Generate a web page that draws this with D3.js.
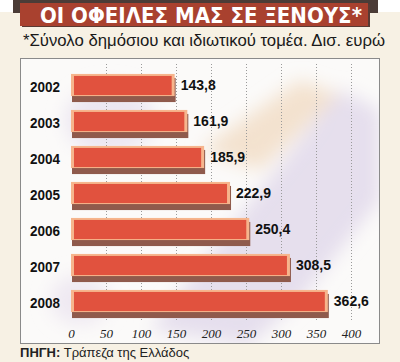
<!DOCTYPE html>
<html>
<head>
<meta charset="utf-8">
<script src="https://cdn.jsdelivr.net/npm/d3@7"></script>
<style>
  body { margin: 0; background: #f7f1e4; }
  svg { display: block; }
</style>
</head>
<body>
<svg width="400" height="362"></svg>
<script>
// Data
var years = ['2002', '2003', '2004', '2005', '2006', '2007', '2008']
var debt = [143.8, 161.9, 185.9, 222.9, 250.4, 308.5, 362.6]
var debtLabels = ['143,8', '161,9', '185,9', '222,9', '250,4', '308,5', '362,6']
var ticks = [0, 50, 100, 150, 200, 250, 300, 350, 400]

var svg = d3.select('svg'),
  width = +svg.attr('width'),
  height = +svg.attr('height')

// Background
svg.append('rect').attr('width', width).attr('height', height).attr('fill', '#f7f1e4')
svg.append('rect').attr('width', width).attr('height', 12).attr('fill', '#ffffff')
svg.append('rect').attr('x', 13).attr('y', 0).attr('width', 365).attr('height', 13).attr('fill', '#4b3c37')

// Title banner
svg.append('rect').attr('x', 22).attr('y', 4).attr('width', 348).attr('height', 23).attr('fill', '#5a3a33')
svg.append('rect').attr('x', 20).attr('y', 3).attr('width', 348).attr('height', 23).attr('fill', '#a9412f')
svg.append('text')
  .attr('x', 40).attr('y', 23)
  .attr('textLength', 322).attr('lengthAdjust', 'spacingAndGlyphs')
  .style('font-family', 'Liberation Sans Narrow, DejaVu Sans Condensed, sans-serif')
  .style('font-weight', 'bold').style('font-size', '22px')
  .attr('fill', '#ffffff')
  .text('ΟΙ ΟΦΕΙΛΕΣ ΜΑΣ ΣΕ ΞΕΝΟΥΣ*')

// Subtitle
svg.append('text')
  .attr('x', 23).attr('y', 46)
  .attr('textLength', 362).attr('lengthAdjust', 'spacingAndGlyphs')
  .style('font-family', 'Liberation Sans, Arial, sans-serif')
  .style('font-size', '16px')
  .attr('fill', '#1a1a1a')
  .text('*Σύνολο δημόσιου και ιδιωτικού τομέα. Δισ. ευρώ')

// Panel
var defs = svg.append('defs')
defs.append('clipPath').attr('id', 'panelClip')
  .append('rect').attr('x', 20).attr('y', 58).attr('width', 359).attr('height', 285)
defs.append('filter').attr('id', 'blur')
  .append('feGaussianBlur').attr('stdDeviation', 9)

svg.append('rect')
  .attr('x', 20.5).attr('y', 58.5).attr('width', 359).attr('height', 285)
  .attr('fill', '#fbfaf9').attr('stroke', '#8a8a8a')

// soft background picture
var deco = svg.append('g').attr('clip-path', 'url(#panelClip)').attr('filter', 'url(#blur)')
deco.append('path').attr('d', 'M150,330 L260,190 L340,90 L380,110 L380,200 L300,300 L250,345 Z')
  .attr('fill', '#e3dcec').attr('opacity', 0.9)
deco.append('path').attr('d', 'M200,150 L300,80 L340,95 L260,170 Z')
  .attr('fill', '#f1dcc4').attr('opacity', 0.8)
deco.append('ellipse').attr('cx', 110).attr('cy', 120).attr('rx', 45).attr('ry', 35)
  .attr('fill', '#ece6f1')
deco.append('ellipse').attr('cx', 80).attr('cy', 300).attr('rx', 30).attr('ry', 25)
  .attr('fill', '#efe9f2')

// Scales
var x = d3.scaleLinear().domain([0, 400]).range([71, 351])
var y = d3.scaleBand().domain(years).range([68, 320]).paddingInner(0.33).paddingOuter(0.165)

// Grid
svg.append('g')
  .selectAll('line')
  .data(ticks.slice(1))
  .enter()
  .append('line')
  .attr('x1', function(d) { return x(d) + 0.5 })
  .attr('x2', function(d) { return x(d) + 0.5 })
  .attr('y1', 64).attr('y2', 320)
  .attr('stroke', '#9a9a9a').attr('stroke-dasharray', '1,2')

// X axis labels
var xAxis = svg.append('g')
  .attr('transform', 'translate(0,329)')
  .call(d3.axisBottom(x).tickValues(ticks).tickSize(0).tickPadding(0))
xAxis.select('.domain').remove()
xAxis.selectAll('text')
  .style('font-family', 'Liberation Serif, Times New Roman, serif')
  .style('font-style', 'italic').style('font-size', '13px')
  .attr('fill', '#222')

// Year labels
svg.append('g')
  .selectAll('text')
  .data(years)
  .enter()
  .append('text')
  .attr('x', 30)
  .attr('y', function(d) { return y(d) + y.bandwidth() / 2 + 5.5 })
  .attr('textLength', 30).attr('lengthAdjust', 'spacingAndGlyphs')
  .style('font-family', 'Liberation Sans, Arial, sans-serif')
  .style('font-weight', 'bold').style('font-size', '15px')
  .attr('fill', '#111')
  .text(function(d) { return d })

// Bars
var bars = svg.append('g')
  .selectAll('g')
  .data(years)
  .enter()
  .append('g')

var bh = y.bandwidth()
bars.append('rect')
  .attr('x', x(0) + 1)
  .attr('y', function(d) { return y(d) + 4 })
  .attr('width', function(d, i) { return x(debt[i]) - x(0) + 3 })
  .attr('height', bh)
  .attr('fill', '#8f5a4c')
bars.append('rect')
  .attr('x', x(0))
  .attr('y', function(d) { return y(d) })
  .attr('width', function(d, i) { return x(debt[i]) - x(0) + 3 })
  .attr('height', bh - 2)
  .attr('fill', '#f6b58d')
bars.append('rect')
  .attr('x', x(0) + 3)
  .attr('y', function(d) { return y(d) + 2 })
  .attr('width', function(d, i) { return x(debt[i]) - x(0) - 3 })
  .attr('height', bh - 5)
  .attr('fill', '#e1523e')

// Value labels
bars.append('text')
  .attr('x', function(d, i) { return x(debt[i]) + 9 })
  .attr('y', function(d) { return y(d) + bh / 2 + 4 })
  .style('font-family', 'Liberation Sans Narrow, Arial Narrow, sans-serif')
  .style('font-weight', 'bold').style('font-size', '14px')
  .attr('fill', '#111')
  .text(function(d, i) { return debtLabels[i] })

// Source
var src = svg.append('text')
  .attr('x', 20).attr('y', 357)
  .style('font-family', 'Liberation Sans, Arial, sans-serif')
  .style('font-size', '13px')
  .attr('fill', '#222')
src.append('tspan').style('font-weight', 'bold').text('ΠΗΓΗ:')
src.append('tspan').text(' Τράπεζα της Ελλάδος')
</script>
</body>
</html>
